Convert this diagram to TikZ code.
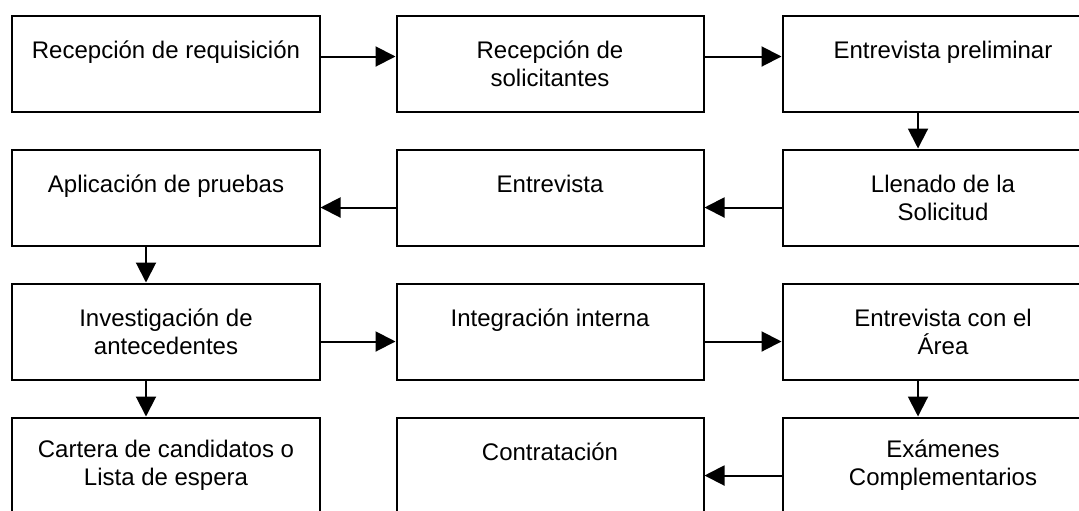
\documentclass[tikz,border=0pt]{standalone}
\usepackage{fontspec}
\setmainfont{Liberation Sans}
\usepackage{tikz}
\usetikzlibrary{positioning, arrows.meta}
\tikzset{%
	thick/.style = {line width = 1pt},
	>={Triangle[length=10pt, width=10pt]},
	every edge/.append style={thick},
	paso/.style = {draw, thick, rectangle, minimum width = 153.5pt, minimum height = 48pt, align = center, font = \fontsize{12}{14}\selectfont},
	pasoder/.style = {paso, minimum width = 160.5pt, xshift = 4.5pt}
}
\begin{document}
\begin{tikzpicture}[x = 192pt, y = 67pt]
		\useasboundingbox (-83pt,31.75pt) rectangle (456.5pt,-223.25pt);
		\clip (-83pt,31.75pt) rectangle (456.5pt,-223.25pt);
		\node [paso] (rreq) at (0,0) {Recepción de requisición\\\mbox{}};
		\node [paso] (rsol) at (1,0) {Recepción de\\solicitantes};
		\node [pasoder] (eprel) at (2,0) {Entrevista preliminar\\\mbox{}};
		\node [paso] (apl) at (0,-1) {Aplicación de pruebas\\\mbox{}};
		\node [paso] (entr) at (1,-1) {Entrevista\\\mbox{}};
		\node [pasoder] (llen) at (2,-1) {Llenado de la\\Solicitud};
		\node [paso] (inv) at (0,-2) {Investigación de\\antecedentes};
		\node [paso] (integ) at (1,-2) {Integración interna\\\mbox{}};
		\node [pasoder] (earea) at (2,-2) {Entrevista con el\\Área};
		\node [paso] (cart) at (0,-3) {Cartera de candidatos o\\Lista de espera};
		\node [paso] (contr) at (1,-3) {Contratación\\\mbox{}};
		\node [pasoder] (exam) at (2,-3) {Exámenes\\Complementarios};
		\path [->] ([yshift=3.5pt]rreq.east) edge ([yshift=3.5pt]rsol.west);
		\path [->] ([yshift=3.5pt]rsol.east) edge ([yshift=3.5pt]eprel.west);
		\path [->] ([xshift=-12.5pt]eprel.south) edge ([xshift=-12.5pt]llen.north);
		\path [->] ([yshift=-5pt]llen.west) edge ([yshift=-5pt]entr.east);
		\path [->] ([yshift=-5pt]entr.west) edge ([yshift=-5pt]apl.east);
		\path [->] ([xshift=-10pt]apl.south) edge ([xshift=-10pt]inv.north);
		\path [->] ([yshift=-5pt]inv.east) edge ([yshift=-5pt]integ.west);
		\path [->] ([yshift=-5pt]integ.east) edge ([yshift=-5pt]earea.west);
		\path [->] ([xshift=-12.5pt]earea.south) edge ([xshift=-12.5pt]exam.north);
		\path [->] ([xshift=-10pt]inv.south) edge ([xshift=-10pt]cart.north);
		\path [->] ([yshift=-5pt]exam.west) edge ([yshift=-5pt]contr.east);
		\end{tikzpicture}
\end{document}
